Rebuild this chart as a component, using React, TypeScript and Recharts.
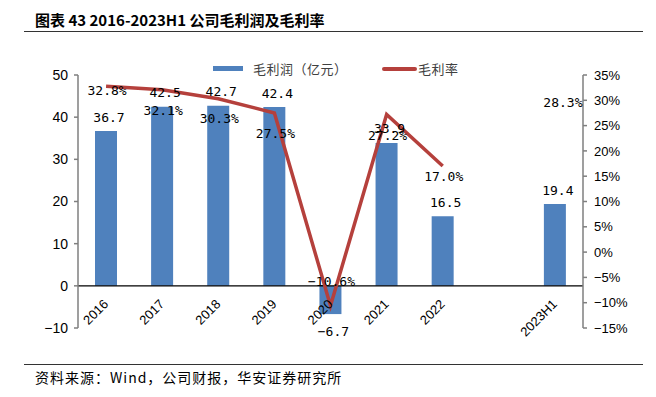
import React from 'react';
import { ComposedChart, Bar, Line, XAxis, YAxis, ReferenceLine, LabelList } from 'recharts';

const years = ['2016', '2017', '2018', '2019', '2020', '2021', '2022', '', '2023H1'];
const grossProfit = [36.7, 42.5, 42.7, 42.4, -6.7, 33.9, 16.5, null, 19.4];
const grossMargin = [32.8, 32.1, 30.3, 27.5, -10.6, 27.2, 17.0, null, 28.3];
const leftTicks = [-10, 0, 10, 20, 30, 40, 50];
const rightTicks = [-15, -10, -5, 0, 5, 10, 15, 20, 25, 30, 35];

// nudges for the margin labels so they sit where the report put them
const marginLabelDx = [0, 0, 0, 0, 0, 0, 0, 0, 7];
const marginLabelDy = [4, 21, 20, 20, -24, 21, 10, 0, -6];

const data = years.map((year, i) => ({ year, profit: grossProfit[i], margin: grossMargin[i] }));

const barBlue = '#4f81bd';
const lineRed = '#b5403c';
const axisGray = '#7f7f7f';
const labelFont = '"DejaVu Sans Mono", monospace';
const cjkFont = '"Noto Sans CJK SC", sans-serif';

const minus = (s: string) => s.replace('-', '\u2212');

const YearTick = (props: any) => {
  const { x, y, payload } = props;
  if (!payload.value) return null;
  const ax = x + 3;
  const ay = y - 23;
  return (
    <text x={ax} y={ay} transform={`rotate(-45 ${ax} ${ay})`} textAnchor="end"
      fontSize={13} fontFamily="Liberation Sans, Arial" fill="#000">
      {payload.value}
    </text>
  );
};

const BarValue = (props: any) => {
  const { x, y, width, height, value } = props;
  if (value == null) return null;
  const top = Math.min(y, y + height);
  const bottom = Math.max(y, y + height);
  const cy = value < 0 ? bottom + 17 : top - 14;
  return (
    <text x={x + width / 2 + 3} y={cy} dy="0.35em" textAnchor="middle"
      fontSize={13} fontFamily={labelFont} fill="#000">
      {minus(value.toFixed(1))}
    </text>
  );
};

const MarginValue = (props: any) => {
  const { x, y, value, index } = props;
  if (value == null) return null;
  return (
    <text x={x + marginLabelDx[index] + 1} y={y + marginLabelDy[index]} dy="0.35em" textAnchor="middle"
      fontSize={13} fontFamily={labelFont} fill="#000">
      {minus(value.toFixed(1))}%
    </text>
  );
};

export default function App() {
  return (
    <div style={{ position: 'absolute', left: 0, top: 0, width: 656, height: 397, background: '#fff', overflow: 'hidden' }}>
      <div style={{ position: 'absolute', left: 35, top: 11, fontFamily: cjkFont, fontWeight: 700, fontSize: 15, lineHeight: '18px', color: '#000', whiteSpace: 'nowrap' }}>
        图表 43 2016-2023H1 公司毛利润及毛利率
      </div>
      <div style={{ position: 'absolute', left: 24, top: 31, width: 619, height: 0, borderTop: '1.5px solid #333' }} />

      {/* legend */}
      <div style={{ position: 'absolute', left: 213, top: 66, width: 30, height: 5, background: barBlue }} />
      <div style={{ position: 'absolute', left: 253, top: 60, fontFamily: cjkFont, fontSize: 13, lineHeight: '18px', letterSpacing: 0.5, color: '#404040', whiteSpace: 'nowrap' }}>
        毛利润（亿元）
      </div>
      <div style={{ position: 'absolute', left: 382, top: 67, width: 35, height: 3.5, background: lineRed, borderRadius: 2 }} />
      <div style={{ position: 'absolute', left: 418, top: 60, fontFamily: cjkFont, fontSize: 13, lineHeight: '18px', letterSpacing: 0.5, color: '#404040', whiteSpace: 'nowrap' }}>
        毛利率
      </div>

      <div style={{ position: 'absolute', left: 0, top: 0 }}>
        <ComposedChart width={656} height={397} data={data} margin={{ top: 75, right: 13, left: 18, bottom: 39 }}>
          <XAxis dataKey="year" axisLine={false} tickLine={false} tickSize={0} tickMargin={0} interval={0} height={30} tick={<YearTick />} />
          <YAxis yAxisId="left" domain={[-10, 50]} ticks={leftTicks} width={60} interval={0}
            axisLine={{ stroke: axisGray, strokeWidth: 1.5 }} tickLine={{ stroke: axisGray, strokeWidth: 1.5 }}
            tickSize={4} tickMargin={6} tickFormatter={(v: number) => minus(String(v))}
            tick={{ fontSize: 14, fontFamily: 'Liberation Sans, Arial', fill: '#000' }} />
          <YAxis yAxisId="right" orientation="right" domain={[-15, 35]} ticks={rightTicks} width={60} interval={0}
            axisLine={{ stroke: axisGray, strokeWidth: 1.5 }} tickLine={{ stroke: axisGray, strokeWidth: 1.5 }}
            tickSize={4} tickMargin={7} tickFormatter={(v: number) => minus(`${v}%`)}
            tick={{ fontSize: 13, fontFamily: 'Liberation Sans, Arial', fill: '#000' }} />
          <Bar yAxisId="left" dataKey="profit" fill={barBlue} barSize={22} isAnimationActive={false}>
            <LabelList dataKey="profit" content={<BarValue />} />
          </Bar>
          <ReferenceLine yAxisId="left" y={0} stroke="#000" strokeWidth={1.3} />
          <Line yAxisId="right" dataKey="margin" stroke={lineRed} strokeWidth={3.5} dot={false} activeDot={false}
            strokeLinejoin="miter" isAnimationActive={false}>
            <LabelList dataKey="margin" content={<MarginValue />} />
          </Line>
        </ComposedChart>
      </div>

      <div style={{ position: 'absolute', left: 24, top: 364, width: 619, height: 0, borderTop: '1.5px solid #333' }} />
      <div style={{ position: 'absolute', left: 35, top: 368, fontFamily: cjkFont, fontSize: 14, lineHeight: '18px', letterSpacing: 1, color: '#000', whiteSpace: 'nowrap' }}>
        资料来源：Wind，公司财报，华安证券研究所
      </div>
    </div>
  );
}
